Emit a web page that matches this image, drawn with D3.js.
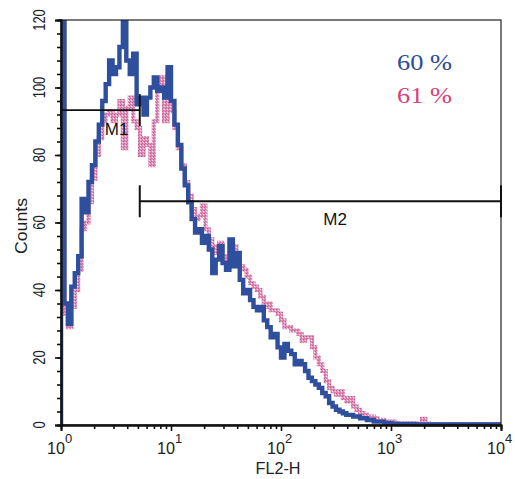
<!DOCTYPE html>
<html>
<head>
<meta charset="utf-8">
<script src="https://cdn.jsdelivr.net/npm/d3@7"></script>
<style>
  html, body { margin: 0; padding: 0; background: #fff; }
  svg { display: block; }
</style>
</head>
<body>
<svg id="chart" width="515" height="479"></svg>
<script>
// ---- data (128 log channels across 10^0 .. 10^4) ----
const channelsPerDecade = 32;
const blueCounts = [
  125, 36, 30, 41, 45, 50, 67, 63, 72, 77,
  84, 89, 96, 101, 108, 104, 106, 112, 121, 108,
  104, 110, 95, 97, 92, 97, 100, 103, 99, 100,
  97, 106, 96, 89, 83, 76, 71, 66, 61, 57,
  58, 54, 56, 52, 45, 49, 53, 48, 46, 55,
  47, 51, 43, 39, 40, 37, 35, 34, 35, 31,
  29, 26, 27, 23, 20, 24, 22, 21, 18, 19,
  18, 16, 14, 13, 12, 11, 9.5, 8.5, 6.5, 5.5,
  4.5, 4, 3.5, 3, 3, 2.5, 2.5, 2, 2, 1.5,
  1.5, 1, 1, 1, 0.5, 0.5, 0.4, 0.4, 0.3, 0.3,
  0.3, 0.3, 0.3, 0.2, 0.2, 0.2, 0.2, 0.2, 0.2, 0.2,
  0.2, 0.2, 0.2, 0.2, 0.2, 0.2, 0.2, 0.2, 0.2, 0.2,
  0.2, 0.2, 0.2, 0.2, 0.2, 0.2, 0.2, 0.2
];
const pinkCounts = [
  120, 33, 29, 35, 40, 46, 58, 60, 66, 73,
  80, 85, 90, 92, 93, 90, 92, 96, 82, 94,
  97, 90, 88, 80, 85, 83, 77, 90, 100, 103,
  90, 96, 93, 88, 82, 77, 72, 68, 64, 61,
  62, 65, 58, 55, 53, 51, 54, 50, 49, 51,
  53, 49, 47, 46, 44, 42, 41, 40, 38, 35,
  36, 34, 34, 33, 31, 29, 29, 28, 28, 27,
  25, 26, 26, 23, 20, 18, 16, 13, 11, 10,
  9, 10, 8, 7, 8, 5.5, 4.5, 3.5, 3, 2.5,
  2.5, 2, 1.5, 1.5, 1, 1, 1, 0.5, 0.5, 0.5,
  0.5, 0.5, 0.5, 0.5, 0.5, 1.8, 0.4, 0.3, 0.3, 0.3,
  0.3, 0.3, 0.3, 0.3, 0.3, 0.3, 0.3, 0.3, 0.3, 0.3,
  0.3, 0.3, 0.3, 0.3, 0.3, 0.3, 0.3, 0.3
];
const yMajorTicks = [0, 20, 40, 60, 80, 100, 120];
const yMinorTicks = d3.range(0, 121, 4);
const xDecades = [1, 10, 100, 1000, 10000];
const xExponents = ["0", "1", "2", "3", "4"];
const markers = [
  { name: "M1", from: 1, to: 5.2, level: 93.3, labelAt: 3.2, labelLevel: 87.7 },
  { name: "M2", from: 5.2, to: 10000, level: 66.3, labelAt: 310, labelLevel: 61 }
];
const legendItems = [
  { text: "60 %", color: "#2c4b9b" },
  { text: "61 %", color: "#d6407c" }
];
const xLabel = "FL2-H";
const yLabel = "Counts";

// ---- layout ----
const svg = d3.select("#chart");
const x = d3.scaleLog().domain([1, 10000]).range([61, 501]);
const y = d3.scaleLinear().domain([0, 120]).range([425, 20]);

const defs = svg.append("defs");
defs.append("clipPath").attr("id", "plotClip")
  .append("rect").attr("x", 61).attr("y", 20).attr("width", 440).attr("height", 408);
const pat = defs.append("pattern").attr("id", "pinkPat")
  .attr("patternUnits", "userSpaceOnUse").attr("width", 3).attr("height", 3);
pat.append("rect").attr("width", 3).attr("height", 3).attr("fill", "#df92b9");
pat.append("rect").attr("x", 0).attr("y", 0).attr("width", 1).attr("height", 1).attr("fill", "#c9578f");
pat.append("rect").attr("x", 2).attr("y", 1).attr("width", 1).attr("height", 1).attr("fill", "#f6e2ec");
pat.append("rect").attr("x", 1).attr("y", 2).attr("width", 1).attr("height", 1).attr("fill", "#d06d9f");

function toPoints(counts) {
  const pts = [[1, 0]];
  counts.forEach((c, i) => pts.push([Math.pow(10, i / channelsPerDecade), c]));
  pts.push([10000, counts[counts.length - 1]]);
  return pts;
}
const line = d3.line()
  .x(d => x(d[0]))
  .y(d => y(d[1]))
  .curve(d3.curveStepAfter);

const plot = svg.append("g").attr("clip-path", "url(#plotClip)");
plot.append("path").datum(toPoints(pinkCounts))
  .attr("d", line).attr("fill", "none")
  .attr("stroke", "url(#pinkPat)").attr("stroke-width", 4.2)
  .attr("stroke-linejoin", "miter");
plot.append("path").datum(toPoints(blueCounts))
  .attr("d", line).attr("fill", "none")
  .attr("stroke", "#2e4f9e").attr("stroke-width", 4.4)
  .attr("stroke-linejoin", "miter");

// frame
svg.append("rect").attr("x", 61).attr("y", 20).attr("width", 440).attr("height", 405)
  .attr("fill", "none").attr("stroke", "#222").attr("stroke-width", 1.2);

// axes
const axisColor = "#111";
const yMinor = svg.append("g").attr("transform", "translate(61,0)")
  .call(d3.axisLeft(y).tickValues(yMinorTicks).tickSize(4).tickFormat(""));
const yMajor = svg.append("g").attr("transform", "translate(61,0)")
  .call(d3.axisLeft(y).tickValues(yMajorTicks).tickSize(6).tickFormat(""));
const xMinorVals = [];
[1, 10, 100, 1000].forEach(d => { for (let k = 2; k <= 9; k++) xMinorVals.push(d * k); });
const xMinor = svg.append("g").attr("transform", "translate(0,425)")
  .call(d3.axisBottom(x).tickValues(xMinorVals).tickSize(4).tickFormat(""));
const xMajor = svg.append("g").attr("transform", "translate(0,425)")
  .call(d3.axisBottom(x).tickValues(xDecades).tickSize(6).tickFormat(""));
[yMinor, yMajor, xMinor, xMajor].forEach(g => {
  g.select(".domain").attr("stroke", axisColor).attr("stroke-width", 1.8);
  g.selectAll(".tick line").attr("stroke", axisColor).attr("stroke-width", 1.6);
});

const font = "'Liberation Sans', Arial, sans-serif";
// y tick labels (rotated)
svg.append("g").selectAll("text").data(yMajorTicks).join("text")
  .attr("transform", d => `translate(45,${y(d)}) rotate(-90)`)
  .attr("text-anchor", "middle")
  .attr("font-family", font).attr("font-size", 16).attr("fill", "#222")
  .attr("textLength", d => String(d).length * 7.2)
  .attr("lengthAdjust", "spacingAndGlyphs")
  .text(d => d);

// x tick labels with superscripts
const xl = svg.append("g").selectAll("g").data(xDecades).join("g")
  .attr("transform", d => `translate(${x(d)},0)`);
xl.append("text").attr("x", -5).attr("y", 454).attr("text-anchor", "middle")
  .attr("font-family", font).attr("font-size", 16).attr("fill", "#222")
  .attr("textLength", 18).attr("lengthAdjust", "spacingAndGlyphs")
  .text("10");
xl.append("text").attr("x", 4).attr("y", 443).attr("text-anchor", "start")
  .attr("font-family", font).attr("font-size", 13).attr("fill", "#222")
  .text((d, i) => xExponents[i]);

// axis titles
svg.append("text").attr("x", 278).attr("y", 474).attr("text-anchor", "middle")
  .attr("font-family", font).attr("font-size", 16).attr("fill", "#222")
  .attr("textLength", 45).attr("lengthAdjust", "spacingAndGlyphs")
  .text(xLabel);
svg.append("text").attr("transform", "translate(27,226) rotate(-90)")
  .attr("text-anchor", "middle")
  .attr("font-family", font).attr("font-size", 16).attr("fill", "#222")
  .attr("textLength", 56).attr("lengthAdjust", "spacingAndGlyphs")
  .text(yLabel);

// markers
const mg = svg.append("g");
markers.forEach(m => {
  const yy = y(m.level);
  mg.append("line").attr("x1", x(m.from)).attr("x2", x(m.to)).attr("y1", yy).attr("y2", yy)
    .attr("stroke", "#111").attr("stroke-width", 1.8);
  [m.from, m.to].forEach(v => {
    mg.append("line").attr("x1", x(v)).attr("x2", x(v)).attr("y1", yy - 16).attr("y2", yy + 16)
      .attr("stroke", "#111").attr("stroke-width", 2);
  });
  mg.append("text").attr("x", x(m.labelAt)).attr("y", y(m.labelLevel) + 6)
    .attr("text-anchor", "middle").attr("font-family", font).attr("font-size", 17)
    .attr("fill", "#111").text(m.name);
});

// legend
svg.append("g").selectAll("text").data(legendItems).join("text")
  .attr("x", 397).attr("y", (d, i) => 70 + i * 33)
  .attr("font-family", "'Liberation Serif', 'Times New Roman', serif")
  .attr("font-size", 23).attr("fill", d => d.color)
  .attr("textLength", 55).attr("lengthAdjust", "spacingAndGlyphs")
  .text(d => d.text);
</script>
</body>
</html>
